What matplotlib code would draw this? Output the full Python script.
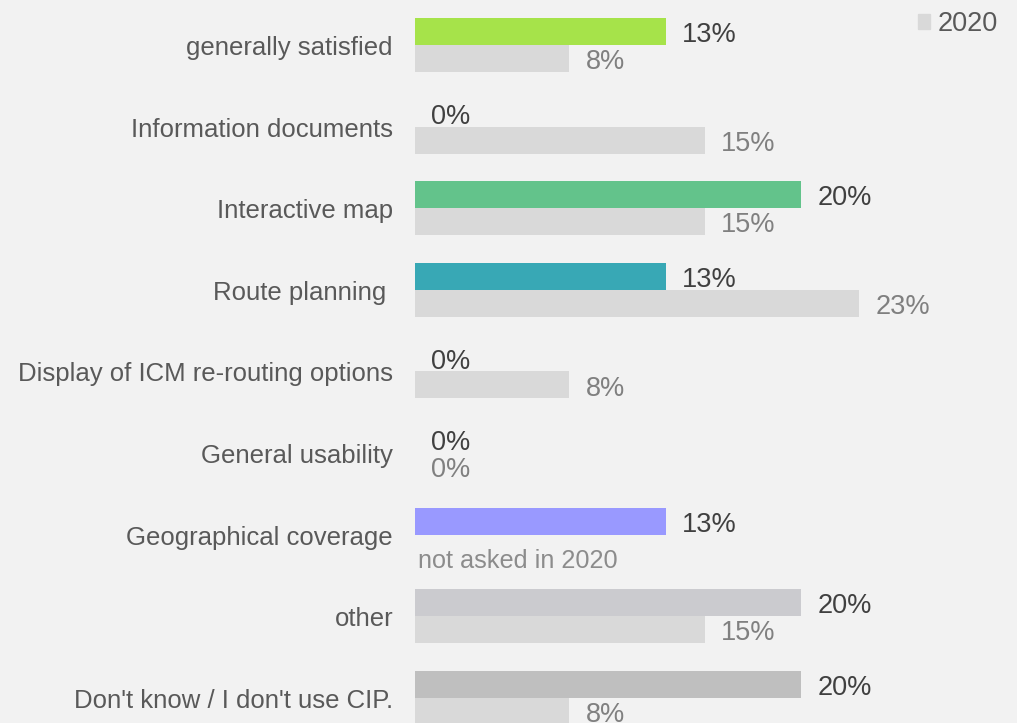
import matplotlib
matplotlib.use("Agg")
import matplotlib.pyplot as plt
from matplotlib.patches import Patch

categories = [
    "generally satisfied",
    "Information documents",
    "Interactive map",
    "Route planning ",
    "Display of ICM re-routing options",
    "General usability",
    "Geographical coverage",
    "other",
    "Don't know / I don't use CIP.",
]
current = [13, 0, 20, 13, 0, 0, 13, 20, 20]
prev_2020 = [8, 15, 15, 23, 8, 0, None, 15, 8]
current_colors = ["#a6e34a", "#e6e6e6", "#63c38b", "#38a8b5", "#e6e6e6",
                  "#e6e6e6", "#9999ff", "#cbcbcf", "#bfbfbf"]
legend_label = "2020"

BG = "#f2f2f2"
GREY_2020 = "#d9d9d9"
FONT = "Liberation Sans"

fig = plt.figure(figsize=(10.17, 7.23), dpi=100, facecolor=BG)
ax = fig.add_axes([415 / 1017, 0, 602 / 1017, 1])
ax.set_facecolor(BG)

h = 0.331
n = len(categories)

for i, (c, p) in enumerate(zip(current, prev_2020)):
    ax.barh(i - h / 2, c, height=h, color=current_colors[i], linewidth=0)
    ax.text(c + 0.85, i - h / 2 + 0.045, f"{c}%", va="center", ha="left",
            color="#404040", fontsize=19.5, family=FONT)
    if p is None:
        ax.text(0.15, i + h / 2 + 0.155, "not asked in 2020", va="center",
                ha="left", color="#8c8c8c", fontsize=18.2, family=FONT)
    else:
        ax.barh(i + h / 2, p, height=h, color=GREY_2020, linewidth=0)
        ax.text(p + 0.85, i + h / 2 + 0.045, f"{p}%", va="center", ha="left",
                color="#808080", fontsize=19.5, family=FONT)

for i, cat in enumerate(categories):
    fig.text(393 / 1017, 1 - (45 + 81.6 * i + 3) / 723, cat, ha="right",
             va="center", color="#595959", fontsize=18.5, family=FONT)

ax.set_xlim(0, 602 / 19.3)
ax.set_ylim(8.309, -0.551)
ax.axis("off")

leg = fig.legend(handles=[Patch(color=GREY_2020, label=legend_label)],
                 loc="upper right", bbox_to_anchor=(1013 / 1017, 1.0 + 4 / 723),
                 frameon=False, prop={"family": FONT, "size": 19.5},
                 handlelength=0.45, handleheight=0.45, handletextpad=0.3,
                 borderaxespad=0.15)
for t in leg.get_texts():
    t.set_color("#595959")

fig.savefig("out.png", dpi=100, facecolor=BG)
